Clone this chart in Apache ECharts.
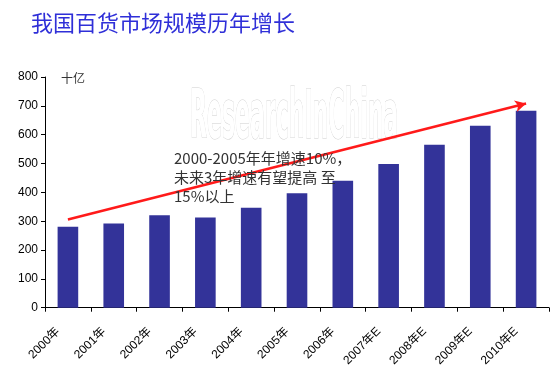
<!DOCTYPE html>
<html><head><meta charset="utf-8">
<script src="https://cdn.jsdelivr.net/npm/echarts@6/dist/echarts.min.js"></script>
<style>html,body{margin:0;padding:0;background:#fff}#c{width:559px;height:369px}</style>
</head><body><div id="c"></div>
<script>
const categories = ["2000年","2001年","2002年","2003年","2004年","2005年","2006年","2007年E","2008年E","2009年E","2010年E"];
const values = [281, 292, 321, 313, 347, 397, 440, 498, 565, 631, 683];
const yTicks = [0, 100, 200, 300, 400, 500, 600, 700, 800];
const trendStart = [0, 306];
const trendEnd = [10, 708];
const titleText = "我国百货市场规模历年增长";
const unitText = "十亿";
const noteLines = ["2000-2005年年增速10%，", "未来3年增速有望提高 至", "15%以上"];
const watermarkText = "ResearchInChina";

const chart = echarts.init(document.getElementById('c'), null, {renderer:'canvas'});
chart.setOption({
  backgroundColor: '#fff',
  animation: false,
  title: {
    text: titleText, left: 26, top: 7,
    textStyle: {color:'#2f2fd8', fontSize: 22, fontWeight: 'normal', fontFamily: '"Noto Sans CJK SC", sans-serif'}
  },
  grid: {left: 45, right: 10, top: 77, bottom: 61},
  xAxis: {
    type: 'category', data: categories,
    axisLine: {lineStyle: {color:'#000', width: 1}},
    axisTick: {show: true, alignWithLabel: false, length: 4, inside: false, lineStyle:{color:'#000'}},
    axisLabel: {rotate: 45, fontSize: 12, color:'#000', margin: 12, padding: [0, 14, 0, 0], fontFamily:'"Liberation Sans", "Noto Sans CJK SC", sans-serif'}
  },
  yAxis: {
    type: 'value', min: yTicks[0], max: yTicks[yTicks.length-1], interval: 100,
    axisLine: {show: true, lineStyle: {color:'#000'}},
    axisTick: {show: true, length: 4, lineStyle:{color:'#000'}},
    splitLine: {show: false},
    axisLabel: {fontSize: 12, color:'#000', margin: 7, fontFamily:'"Liberation Sans", sans-serif'}
  },
  series: [{
    type: 'bar', data: values, barWidth: '45%',
    itemStyle: {color: '#333399'},
    markLine: {
      silent: true, symbol: ['none', 'arrow'], symbolSize: [9, 11],
      label: {show: false},
      lineStyle: {color: '#ff1a1a', width: 2.5, type: 'solid'},
      data: [[{coord: trendStart}, {coord: trendEnd}]]
    }
  }],
  graphic: [
    {type:'text', x: 190, y: 86, scaleX: 0.36, z: 1, silent: true,
     style: {text: watermarkText, fill: '#ffffff', font: 'bold 68px "DejaVu Sans Condensed", sans-serif', textVerticalAlign: 'top', stroke:'#d0d0d0', lineWidth: 1, shadowColor:'rgba(0,0,0,0.55)', shadowBlur: 4, shadowOffsetX: 3, shadowOffsetY: 3}},
    {type:'text', left: 61, top: 72, style: {text: unitText, fill:'#333', font: '12px "Noto Sans CJK SC", sans-serif'}},
    {type:'text', left: 174, top: 149, z: 10, style: {text: noteLines.join('\n'), fill:'#333', font: '15px "Noto Sans CJK SC", sans-serif', lineHeight: 19}}
  ]
});
</script></body></html>
